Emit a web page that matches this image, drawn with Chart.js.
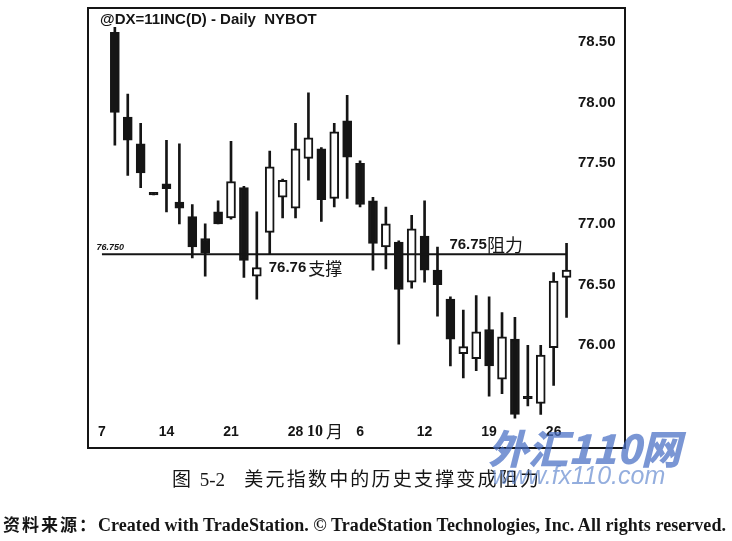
<!DOCTYPE html>
<html>
<head>
<meta charset="utf-8">
<script src="https://cdn.jsdelivr.net/npm/chart.js@4.4.1/dist/chart.umd.min.js"></script>
<style>
  html, body { margin: 0; padding: 0; background: #fff; }
  #wrap { position: relative; width: 732px; height: 541px; overflow: hidden; }
  #wrap canvas { position: absolute; left: 0; top: 0; }
  .txt { position: absolute; white-space: nowrap; color: #151515; }
  #caption { left: 172px; top: 464px; font: 19px "Noto Sans CJK SC", sans-serif; letter-spacing: 2.2px; }
  #caption .num { font-family: "Liberation Serif", serif; letter-spacing: 0; }
  #source { left: 3px; top: 511px; font: bold 18px "Liberation Serif", serif; letter-spacing: 0.05px; }
  #source .cjk { font: bold 17px "Noto Sans CJK SC", sans-serif; letter-spacing: 2px; }
  .wm { position: absolute; white-space: nowrap; color: rgba(70, 110, 195, 0.72); font-style: italic; }
  #wm1 { left: 488px; top: 418px; font: italic 900 40px "Noto Sans CJK SC", sans-serif; }
  #wm2 { left: 492px; top: 461px; font: italic 25px "Liberation Sans", sans-serif; color: rgba(90, 130, 205, 0.65); }
</style>
</head>
<body>
<div id="wrap">
  <canvas id="dxChart" width="732" height="541"></canvas>
  <div class="txt" id="caption">图 <span class="num">5-2</span>&nbsp;&nbsp;&nbsp;美元指数中的历史支撑变成阻力</div>
  <div class="txt" id="source"><span class="cjk">资料来源：</span>Created with TradeStation. © TradeStation Technologies, Inc. All rights reserved.</div>
  <div class="wm" id="wm1">外汇110网</div>
  <div class="wm" id="wm2">www.fx110.com</div>
</div>
<script>
// Daily bars, Sep 7 (holiday, no bar) to Oct 27
const dates = ['9/7', '9/8', '9/9', '9/10', '9/11', '9/14', '9/15', '9/16', '9/17', '9/18',
  '9/21', '9/22', '9/23', '9/24', '9/25', '9/28', '9/29', '9/30', '10/1', '10/2',
  '10/5', '10/6', '10/7', '10/8', '10/9', '10/12', '10/13', '10/14', '10/15', '10/16',
  '10/19', '10/20', '10/21', '10/22', '10/23', '10/26', '10/27'];
const opens = [null, 78.58, 77.88, 77.66, 77.26, 77.33, 77.18, 77.06, 76.88, 77.10,
  77.05, 77.30, 76.57, 76.93, 77.22, 77.13, 77.54, 77.62, 77.21, 77.85,
  77.50, 77.19, 76.81, 76.85, 76.52, 76.90, 76.62, 76.38, 75.93, 75.89,
  76.13, 75.72, 76.05, 75.58, 75.52, 75.98, 76.56];
const highs = [null, 78.62, 78.07, 77.83, 77.26, 77.69, 77.66, 77.16, 77.00, 77.19,
  77.68, 77.31, 77.10, 77.60, 77.37, 77.83, 78.08, 77.63, 77.83, 78.06,
  77.52, 77.22, 77.14, 76.86, 77.07, 77.19, 76.81, 76.40, 76.29, 76.41,
  76.40, 76.27, 76.23, 76.00, 76.00, 76.60, 76.84];
const lows = [null, 77.65, 77.40, 77.30, 77.24, 77.10, 77.00, 76.72, 76.57, 77.00,
  77.04, 76.56, 76.38, 76.75, 77.05, 77.05, 77.36, 77.02, 77.14, 77.21,
  77.14, 76.62, 76.63, 76.01, 76.47, 76.52, 76.24, 75.83, 75.73, 75.79,
  75.58, 75.60, 75.40, 75.50, 75.43, 75.67, 76.23];
const closes = [null, 77.92, 77.69, 77.42, 77.24, 77.29, 77.13, 76.81, 76.76, 77.00,
  77.35, 76.70, 76.64, 77.47, 77.36, 77.62, 77.71, 77.20, 77.76, 77.55,
  77.16, 76.84, 77.00, 76.46, 76.96, 76.62, 76.50, 76.05, 75.99, 76.11,
  75.83, 76.07, 75.43, 75.56, 75.92, 76.53, 76.62];

const tickDates = ['9/7', '9/14', '9/21', '9/28', '10/5', '10/12', '10/19', '10/26'];
const tickText = ['7', '14', '21', '28', '6', '12', '19', '26'];

const levelValue = 76.75;
const levelLabel = '76.750';
const ink = '#151515';

const wickData = dates.map((d, i) => opens[i] == null ? null : [lows[i], highs[i]]);
const bodyData = dates.map((d, i) => opens[i] == null ? null : [opens[i], closes[i]]);
const bodyColors = dates.map((d, i) => closes[i] >= opens[i] ? '#ffffff' : ink);
const levelData = dates.map((d, i) => (i === 0 || i === dates.length - 1) ? levelValue : null);

function drawParts(ctx, x, y, parts) {
    for (const p of parts) {
        ctx.font = p.font;
        ctx.fillText(p.text, x, y);
        x += ctx.measureText(p.text).width + (p.gap || 0);
    }
}

const annotations = {
    id: 'annotations',
    afterDraw(chart) {
        const ctx = chart.ctx;
        const xs = chart.scales.x, ys = chart.scales.y;
        const ly = ys.getPixelForValue(levelValue);
        ctx.save();
        ctx.fillStyle = ink;
        ctx.strokeStyle = ink;

        // outer frame
        ctx.lineWidth = 2;
        ctx.strokeRect(88, 8, 537, 440);

        ctx.textBaseline = 'middle';
        ctx.textAlign = 'left';
        drawParts(ctx, 100, 20, [{ text: '@DX=11INC(D) - Daily  NYBOT', font: 'bold 15px "Liberation Sans"' }]);

        ctx.textBaseline = 'alphabetic';
        drawParts(ctx, chart.chartArea.left + 1, ly - 4, [{ text: levelLabel, font: 'italic bold 9px "Liberation Sans"' }]);

        ctx.textBaseline = 'middle';
        drawParts(ctx, xs.getPixelForValue(13) - 1, ly + 14, [
            { text: '76.76', font: 'bold 15px "Liberation Sans"', gap: 2 },
            { text: '支撑', font: '17px "Noto Sans CJK SC"' }
        ]);
        drawParts(ctx, xs.getPixelForValue(27) - 1, ly - 9, [
            { text: '76.75', font: 'bold 15px "Liberation Sans"' },
            { text: '阻力', font: '18px "Noto Sans CJK SC"' }
        ]);

        // month marker beside the Oct tick
        drawParts(ctx, xs.getPixelForValue(20) - 53, xs.top + 12, [
            { text: '10', font: 'bold 16px "Liberation Serif"', gap: 3 },
            { text: '月', font: '17px "Noto Sans CJK SC"' }
        ]);
        ctx.restore();
    }
};

new Chart(document.getElementById('dxChart'), {
    data: {
        labels: dates,
        datasets: [
            {
                type: 'line',
                data: levelData,
                borderColor: ink,
                borderWidth: 2,
                pointRadius: 0,
                spanGaps: true,
                order: 0
            },
            {
                type: 'bar',
                data: bodyData,
                backgroundColor: bodyColors,
                borderColor: ink,
                borderWidth: 2,
                borderSkipped: false,
                barThickness: 9,
                grouped: false,
                order: 1
            },
            {
                type: 'bar',
                data: wickData,
                backgroundColor: ink,
                borderWidth: 0,
                barThickness: 2,
                grouped: false,
                order: 2
            }
        ]
    },
    options: {
        responsive: false,
        animation: false,
        layout: { padding: { left: 95.5, right: 107, top: 20, bottom: 93 } },
        plugins: { legend: { display: false }, tooltip: { enabled: false } },
        scales: {
            x: {
                type: 'category',
                offset: true,
                grid: { display: false, drawTicks: false },
                border: { display: false },
                ticks: {
                    autoSkip: false,
                    maxRotation: 0,
                    padding: 4,
                    color: ink,
                    font: { family: 'Liberation Sans', weight: 'bold', size: 14 },
                    callback: function (v, i) {
                        const k = tickDates.indexOf(dates[i]);
                        return k >= 0 ? tickText[k] : '';
                    }
                },
                afterFit: s => { s.height = 28; }
            },
            y: {
                position: 'right',
                min: 75.384,
                max: 78.681,
                grid: { display: false, drawTicks: false },
                border: { display: false },
                ticks: {
                    stepSize: 0.5,
                    includeBounds: false,
                    padding: 5,
                    color: ink,
                    font: { family: 'Liberation Sans', weight: 'bold', size: 15 },
                    callback: v => Number(v).toFixed(2)
                },
                afterBuildTicks: s => { s.ticks = s.ticks.filter(t => t.value >= 75.99); },
                afterFit: s => { s.width = 52; }
            }
        }
    },
    plugins: [annotations]
});
</script>
</body>
</html>
